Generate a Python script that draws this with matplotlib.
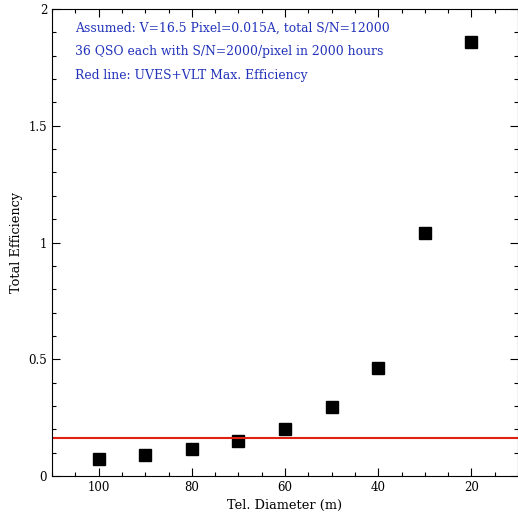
import matplotlib
matplotlib.use("Agg")
import matplotlib.pyplot as plt
from matplotlib.ticker import MultipleLocator

# telescope diameter (m) vs total efficiency needed
diameter = [100, 90, 80, 70, 60, 50, 40, 30, 20]
efficiency = [0.071, 0.090, 0.116, 0.150, 0.200, 0.294, 0.462, 1.040, 1.857]
uves_max = 0.163

notes = ["Assumed: V=16.5 Pixel=0.015A, total S/N=12000",
         "36 QSO each with S/N=2000/pixel in 2000 hours",
         "Red line: UVES+VLT Max. Efficiency"]

plt.rcParams['font.family'] = ['DejaVu Serif']

fig = plt.figure(figsize=(5.18, 5.13), dpi=100)
ax = fig.add_axes([52/518, 1 - 476/513, 466/518, 467/513])

ax.plot(diameter, efficiency, 's', color='black', markersize=9)
ax.axhline(uves_max, color='#e02010', lw=1.5)

ax.set_xlim(110, 10)
ax.set_ylim(0, 2)
ax.xaxis.set_major_locator(MultipleLocator(20))
ax.xaxis.set_minor_locator(MultipleLocator(5))
ax.yaxis.set_minor_locator(MultipleLocator(0.1))
ax.set_yticks([0, 0.5, 1, 1.5, 2], ['0', '0.5', '1', '1.5', '2'])
ax.tick_params(which='both', direction='in', top=True, right=True, labelsize=8.5, width=0.8)
ax.tick_params(which='major', length=6)
ax.tick_params(which='minor', length=3)

ax.set_xlabel("Tel. Diameter (m)", fontsize=9.3, labelpad=4)
ax.set_ylabel("Total Efficiency", fontsize=9.3, labelpad=4)

# notes placed in figure pixels, measured from the top
for i, t in enumerate(notes):
    ax.text(75, 513 - (28 + 24*i), t, transform=None, fontsize=8.9,
            color='#2233bb', va='center', ha='left')

fig.savefig("out.png", dpi=100)
